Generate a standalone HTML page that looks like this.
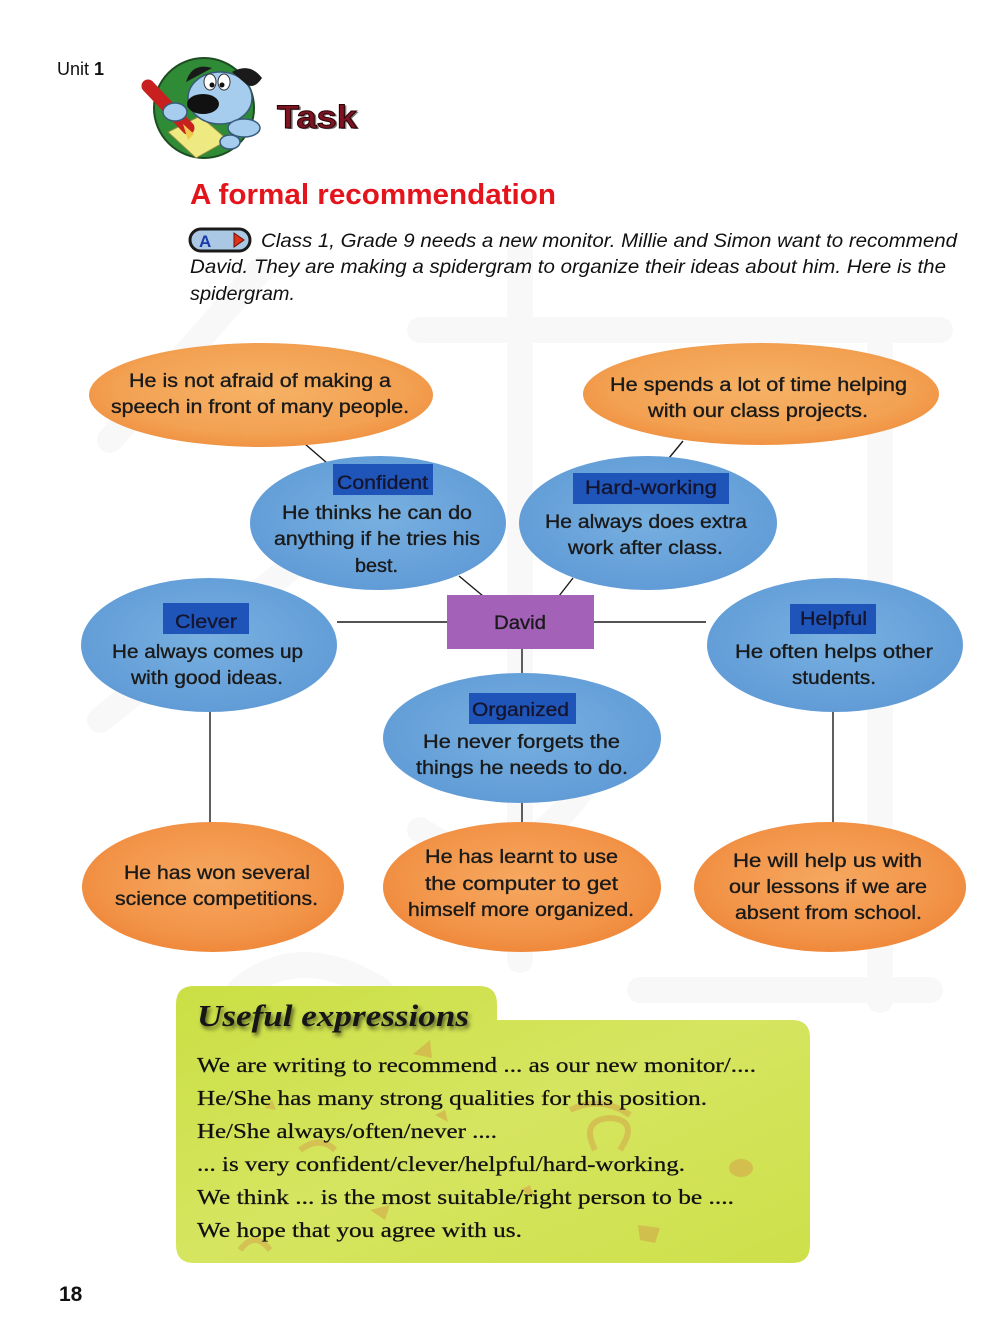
<!DOCTYPE html>
<html>
<head>
<meta charset="utf-8">
<style>
html,body{margin:0;padding:0;background:#fff;}
body{width:1000px;height:1336px;overflow:hidden;}
svg{display:block;}
.sp{font-family:"Liberation Sans",sans-serif;font-size:19px;fill:#1a1a1a;stroke:#1a1a1a;stroke-width:0.35px;}
.lb{font-family:"Liberation Sans",sans-serif;font-size:19px;fill:#151530;stroke:#151530;stroke-width:0.35px;}
.ue{font-family:"Liberation Serif",serif;font-size:21px;fill:#111;stroke:#111;stroke-width:0.25px;}
.it{font-family:"Liberation Sans",sans-serif;font-style:italic;font-size:19px;fill:#111;}
</style>
</head>
<body>
<svg width="1000" height="1336" viewBox="0 0 1000 1336" xmlns="http://www.w3.org/2000/svg">
<defs>
  <radialGradient id="org" cx="50%" cy="45%" r="60%">
    <stop offset="0%" stop-color="#f6b266"/>
    <stop offset="70%" stop-color="#f3a152"/>
    <stop offset="100%" stop-color="#ef8e3e"/>
  </radialGradient>
  <radialGradient id="org2" cx="50%" cy="45%" r="60%">
    <stop offset="0%" stop-color="#f6a860"/>
    <stop offset="70%" stop-color="#f29448"/>
    <stop offset="100%" stop-color="#ee8436"/>
  </radialGradient>
  <radialGradient id="blu" cx="50%" cy="45%" r="60%">
    <stop offset="0%" stop-color="#78b0e0"/>
    <stop offset="100%" stop-color="#5f9ad6"/>
  </radialGradient>
  <linearGradient id="grn" x1="0" y1="0" x2="1" y2="1">
    <stop offset="0%" stop-color="#cadf44"/>
    <stop offset="50%" stop-color="#d6e560"/>
    <stop offset="100%" stop-color="#cde04a"/>
  </linearGradient>
  <filter id="blur" x="-10%" y="-30%" width="120%" height="160%">
    <feGaussianBlur stdDeviation="2"/>
  </filter>
</defs>

<!-- faint watermark -->
<g stroke="#f8f8f8" stroke-width="26" fill="none" stroke-linecap="round">
  <path d="M110 440 L260 270"/>
  <path d="M520 250 L520 960"/>
  <path d="M420 330 L940 330"/>
  <path d="M880 340 L880 1000"/>
  <path d="M100 720 L300 560"/>
  <path d="M420 830 Q520 900 600 760"/>
  <path d="M640 990 L930 990"/>
  <path d="M240 990 Q300 940 380 990"/>
</g>

<!-- Header -->
<text x="57" y="75" font-family="Liberation Sans, sans-serif" font-size="18" fill="#111">Unit <tspan font-weight="bold">1</tspan></text>

<!-- Dog icon -->
<g>
  <circle cx="204" cy="108" r="50" fill="#2f8b36" stroke="#1d4d22" stroke-width="2"/>
  <polygon points="168,132 200,116 228,140 196,158" fill="#efe982" stroke="#8a8a40" stroke-width="1"/>
  <line x1="148" y1="86" x2="188" y2="128" stroke="#c8201e" stroke-width="13" stroke-linecap="round"/>
  <polygon points="183,124 194,134 188,140" fill="#f1c94a"/>
  <ellipse cx="220" cy="98" rx="32" ry="26" fill="#a6cdee" stroke="#385a78" stroke-width="1.5"/>
  <path d="M232 72 Q250 62 262 78 Q254 90 246 84 Z" fill="#1a1a1a"/>
  <path d="M186 82 Q192 62 212 68 Z" fill="#1a1a1a"/>
  <ellipse cx="210" cy="82" rx="6" ry="8" fill="#fff" stroke="#333" stroke-width="1"/>
  <ellipse cx="224" cy="82" rx="6" ry="8" fill="#fff" stroke="#333" stroke-width="1"/>
  <circle cx="212" cy="85" r="2.5" fill="#111"/>
  <circle cx="222" cy="85" r="2.5" fill="#111"/>
  <ellipse cx="203" cy="104" rx="16" ry="10" fill="#111"/>
  <ellipse cx="175" cy="112" rx="12" ry="9" fill="#a6cdee" stroke="#385a78" stroke-width="1.5"/>
  <ellipse cx="244" cy="128" rx="16" ry="9" fill="#a6cdee" stroke="#385a78" stroke-width="1.5"/>
  <ellipse cx="230" cy="142" rx="10" ry="7" fill="#a6cdee" stroke="#385a78" stroke-width="1.5"/>
</g>
<text x="278" y="2" font-family="Liberation Sans, sans-serif" font-weight="bold" font-size="32" fill="#000" opacity="0.5" transform="translate(1,127)" textLength="80" lengthAdjust="spacingAndGlyphs">Task</text>
<text x="277" y="128" font-family="Liberation Sans, sans-serif" font-weight="bold" font-size="32" fill="#7d1422" stroke="#2a0508" stroke-width="1" textLength="80" lengthAdjust="spacingAndGlyphs">Task</text>

<!-- Title -->
<text x="190" y="204" font-family="Liberation Sans, sans-serif" font-weight="bold" font-size="29" fill="#e4141c" textLength="366" lengthAdjust="spacingAndGlyphs">A formal recommendation</text>

<!-- AV icon -->
<g>
  <rect x="190" y="229" width="60" height="22" rx="11" fill="#aac8e4" stroke="#1a1a1a" stroke-width="3"/>
  <text x="199" y="247" font-family="Liberation Sans, sans-serif" font-weight="bold" font-size="17" fill="#1a3aa8">A</text>
  <polygon points="234,233 244,240 234,247" fill="#e03018" stroke="#6b1008" stroke-width="1"/>
</g>
<text class="it" x="261" y="247" textLength="696" lengthAdjust="spacingAndGlyphs">Class 1, Grade 9 needs a new monitor. Millie and Simon want to recommend</text>
<text class="it" x="190" y="273" textLength="756" lengthAdjust="spacingAndGlyphs">David. They are making a spidergram to organize their ideas about him. Here is the</text>
<text class="it" x="190" y="300" textLength="105" lengthAdjust="spacingAndGlyphs">spidergram.</text>

<!-- Connectors -->
<g stroke="#1a1a1a" stroke-width="1.4" fill="none">
  <line x1="305" y1="444" x2="327" y2="463"/>
  <line x1="459" y1="576" x2="483" y2="596"/>
  <line x1="683" y1="441" x2="669" y2="458"/>
  <line x1="573" y1="578" x2="559" y2="596"/>
  <line x1="337" y1="622" x2="447" y2="622"/>
  <line x1="594" y1="622" x2="706" y2="622"/>
  <line x1="522" y1="649" x2="522" y2="674"/>
  <line x1="210" y1="712" x2="210" y2="823"/>
  <line x1="522" y1="803" x2="522" y2="823"/>
  <line x1="833" y1="712" x2="833" y2="823"/>
</g>

<!-- Orange top ellipses -->
<ellipse cx="261" cy="395" rx="172" ry="52" fill="url(#org)"/>
<ellipse cx="761" cy="394" rx="178" ry="51" fill="url(#org)"/>

<!-- Blue ellipses -->
<ellipse cx="378" cy="523" rx="128" ry="67" fill="url(#blu)"/>
<ellipse cx="648" cy="523" rx="129" ry="67" fill="url(#blu)"/>
<ellipse cx="209" cy="645" rx="128" ry="67" fill="url(#blu)"/>
<ellipse cx="835" cy="645" rx="128" ry="67" fill="url(#blu)"/>
<ellipse cx="522" cy="738" rx="139" ry="65" fill="url(#blu)"/>

<!-- Orange bottom ellipses -->
<ellipse cx="213" cy="887" rx="131" ry="65" fill="url(#org2)"/>
<ellipse cx="522" cy="887" rx="139" ry="65" fill="url(#org2)"/>
<ellipse cx="830" cy="887" rx="136" ry="65" fill="url(#org2)"/>

<!-- David -->
<rect x="447" y="595" width="147" height="54" fill="#a362b8"/>
<text class="sp" x="494" y="629" textLength="52" lengthAdjust="spacingAndGlyphs">David</text>

<!-- Label boxes -->
<g fill="#1f55b8">
  <rect x="333" y="464" width="100" height="31"/>
  <rect x="573" y="473" width="156" height="31"/>
  <rect x="163" y="603" width="86" height="31"/>
  <rect x="790" y="604" width="86" height="30"/>
  <rect x="469" y="693" width="107" height="31"/>
</g>
<text class="lb" x="337" y="489" textLength="91" lengthAdjust="spacingAndGlyphs">Confident</text>
<text class="lb" x="585" y="494" textLength="132" lengthAdjust="spacingAndGlyphs">Hard-working</text>
<text class="lb" x="175" y="628" textLength="62" lengthAdjust="spacingAndGlyphs">Clever</text>
<text class="lb" x="800" y="625" textLength="67" lengthAdjust="spacingAndGlyphs">Helpful</text>
<text class="lb" x="472" y="716" textLength="97" lengthAdjust="spacingAndGlyphs">Organized</text>

<!-- Spider texts -->
<text class="sp" x="129" y="387" textLength="262" lengthAdjust="spacingAndGlyphs">He is not afraid of making a</text>
<text class="sp" x="111" y="413" textLength="298" lengthAdjust="spacingAndGlyphs">speech in front of many people.</text>

<text class="sp" x="610" y="391" textLength="297" lengthAdjust="spacingAndGlyphs">He spends a lot of time helping</text>
<text class="sp" x="648" y="417" textLength="220" lengthAdjust="spacingAndGlyphs">with our class projects.</text>

<text class="sp" x="282" y="519" textLength="190" lengthAdjust="spacingAndGlyphs">He thinks he can do</text>
<text class="sp" x="274" y="545" textLength="206" lengthAdjust="spacingAndGlyphs">anything if he tries his</text>
<text class="sp" x="355" y="572" textLength="43" lengthAdjust="spacingAndGlyphs">best.</text>

<text class="sp" x="545" y="528" textLength="202" lengthAdjust="spacingAndGlyphs">He always does extra</text>
<text class="sp" x="568" y="554" textLength="155" lengthAdjust="spacingAndGlyphs">work after class.</text>

<text class="sp" x="112" y="658" textLength="191" lengthAdjust="spacingAndGlyphs">He always comes up</text>
<text class="sp" x="131" y="684" textLength="152" lengthAdjust="spacingAndGlyphs">with good ideas.</text>

<text class="sp" x="735" y="658" textLength="198" lengthAdjust="spacingAndGlyphs">He often helps other</text>
<text class="sp" x="792" y="684" textLength="84" lengthAdjust="spacingAndGlyphs">students.</text>

<text class="sp" x="423" y="748" textLength="197" lengthAdjust="spacingAndGlyphs">He never forgets the</text>
<text class="sp" x="416" y="774" textLength="212" lengthAdjust="spacingAndGlyphs">things he needs to do.</text>

<text class="sp" x="124" y="879" textLength="186" lengthAdjust="spacingAndGlyphs">He has won several</text>
<text class="sp" x="115" y="905" textLength="203" lengthAdjust="spacingAndGlyphs">science competitions.</text>

<text class="sp" x="425" y="863" textLength="193" lengthAdjust="spacingAndGlyphs">He has learnt to use</text>
<text class="sp" x="425" y="890" textLength="193" lengthAdjust="spacingAndGlyphs">the computer to get</text>
<text class="sp" x="408" y="916" textLength="226" lengthAdjust="spacingAndGlyphs">himself more organized.</text>

<text class="sp" x="733" y="867" textLength="189" lengthAdjust="spacingAndGlyphs">He will help us with</text>
<text class="sp" x="729" y="893" textLength="198" lengthAdjust="spacingAndGlyphs">our lessons if we are</text>
<text class="sp" x="735" y="919" textLength="187" lengthAdjust="spacingAndGlyphs">absent from school.</text>

<!-- Useful expressions box -->
<path d="M176 1004 Q176 986 194 986 L479 986 Q497 986 497 1004 L497 1020 L792 1020 Q810 1020 810 1038 L810 1245 Q810 1263 792 1263 L194 1263 Q176 1263 176 1245 Z" fill="url(#grn)"/>
<!-- decorations -->
<g fill="#d3a84a" opacity="0.6">
  <polygon points="413,1054 430,1040 432,1058"/>
  <ellipse cx="741" cy="1168" rx="12" ry="9"/>
  <polygon points="638,1225 660,1228 655,1243 640,1240"/>
  <polygon points="370,1210 390,1205 385,1220"/>
  <polygon points="265,1108 272,1100 276,1110"/>
  <polygon points="435,1115 445,1110 448,1122"/>
  <polygon points="520,1190 530,1185 535,1198"/>
</g>
<g stroke="#d3a84a" stroke-width="6" fill="none" opacity="0.55">
  <path d="M595 1150 Q580 1120 610 1118 Q640 1120 620 1150"/>
  <path d="M570 1110 Q600 1095 630 1115"/>
  <path d="M300 1150 Q320 1135 335 1150"/>
  <path d="M240 1250 Q255 1230 270 1250"/>
</g>
<text x="199" y="1029" font-family="Liberation Serif, serif" font-weight="bold" font-style="italic" font-size="31" fill="#000" opacity="0.6" filter="url(#blur)" textLength="272" lengthAdjust="spacingAndGlyphs">Useful expressions</text>
<text x="197" y="1026" font-family="Liberation Serif, serif" font-weight="bold" font-style="italic" font-size="31" fill="#161616" textLength="272" lengthAdjust="spacingAndGlyphs">Useful expressions</text>

<text class="ue" x="197" y="1072" textLength="559" lengthAdjust="spacingAndGlyphs">We are writing to recommend ... as our new monitor/....</text>
<text class="ue" x="197" y="1105" textLength="510" lengthAdjust="spacingAndGlyphs">He/She has many strong qualities for this position.</text>
<text class="ue" x="197" y="1138" textLength="300" lengthAdjust="spacingAndGlyphs">He/She always/often/never ....</text>
<text class="ue" x="197" y="1171" textLength="488" lengthAdjust="spacingAndGlyphs">... is very confident/clever/helpful/hard-working.</text>
<text class="ue" x="197" y="1204" textLength="537" lengthAdjust="spacingAndGlyphs">We think ... is the most suitable/right person to be ....</text>
<text class="ue" x="197" y="1237" textLength="325" lengthAdjust="spacingAndGlyphs">We hope that you agree with us.</text>

<!-- Page number -->
<text x="59" y="1301" font-family="Liberation Sans, sans-serif" font-weight="bold" font-size="21" fill="#111">18</text>
</svg>
</body>
</html>
